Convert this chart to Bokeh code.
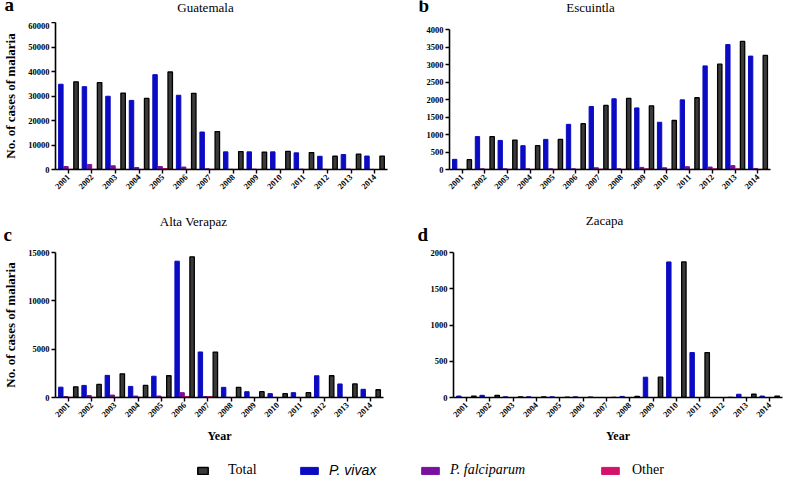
from bokeh.plotting import figure
from bokeh.models import Range1d, FixedTicker, Label, Legend, LegendItem, ColumnDataSource
from bokeh.layouts import column, row
from bokeh.transform import dodge
from bokeh.embed import file_html
from bokeh.resources import INLINE
import math

years = list(range(2001, 2015))
year_labels = [str(y) for y in years]

# Guatemala
g_total = [35800, 35500, 31200, 29000, 39800, 31100, 15500, 7300, 7100, 7400, 6900, 5400, 6300, 5500]
g_vivax = [34800, 33800, 29900, 28200, 38700, 30300, 15300, 7200, 7200, 7200, 6800, 5400, 6100, 5500]
g_falc = [1200, 2000, 1500, 800, 1200, 1000, 300, 100, 150, 100, 150, 100, 200, 50]
g_other = [100, 100, 100, 50, 400, 100, 100, 50, 50, 50, 50, 50, 50, 0]

# Escuintla
e_total = [280, 940, 840, 680, 860, 1310, 1830, 2030, 1820, 1400, 2050, 3010, 3660, 3260]
e_vivax = [290, 940, 830, 680, 860, 1290, 1800, 2020, 1760, 1350, 1990, 2960, 3570, 3240]
e_falc = [5, 20, 20, 20, 20, 20, 50, 20, 60, 50, 80, 70, 110, 30]
e_other = [0, 5, 5, 5, 5, 5, 10, 5, 20, 5, 5, 20, 20, 5]

# Alta Verapaz
a_total = [1100, 1350, 2450, 1250, 2250, 14550, 4700, 1050, 600, 400, 500, 2250, 1400, 800]
a_vivax = [1070, 1250, 2290, 1150, 2200, 14100, 4710, 1050, 600, 400, 500, 2250, 1400, 850]
a_falc = [100, 200, 250, 150, 150, 500, 100, 20, 10, 10, 10, 10, 10, 10]
a_other = [20, 20, 20, 20, 20, 100, 100, 10, 0, 0, 0, 0, 0, 0]

# Zacapa
z_total = [20, 30, 10, 10, 5, 5, 0, 15, 280, 1870, 620, 0, 45, 20]
z_vivax = [20, 30, 10, 10, 10, 10, 0, 15, 280, 1870, 620, 0, 45, 20]
z_falc = [0, 0, 0, 0, 0, 0, 0, 0, 0, 0, 0, 0, 0, 0]
z_other = [0, 0, 0, 0, 0, 0, 0, 0, 0, 0, 0, 0, 0, 0]

panel_titles = ["Guatemala", "Escuintla", "Alta Verapaz", "Zacapa"]
panel_letters = ["a", "b", "c", "d"]
series_names = ["Total", "P. vivax", "P. falciparum", "Other"]

C_TOTAL_FILL = "#3a3a3a"
C_VIVAX = "#0b0bc4"
C_FALC = "#7a109e"
C_OTHER = "#d4126a"
SERIF = "Liberation Serif"
W = 784


def make_panel(total, vivax, falc, other, ymax, ystep,
               width, height, left, right, top, bottom, ylabel, xlabel):
    src = ColumnDataSource(dict(year=years, total=total, vivax=vivax, falc=falc, other=other))
    p = figure(width=width, height=height, output_backend="svg", toolbar_location=None,
               x_range=Range1d(2000.45, 2014.55), y_range=Range1d(0, ymax),
               min_border_left=left, min_border_right=right,
               min_border_top=top, min_border_bottom=bottom, frame_align=False)
    w = 0.19
    p.vbar(x=dodge("year", -0.322), top="vivax", width=w, source=src,
           fill_color=C_VIVAX, line_color=C_VIVAX)
    p.vbar(x=dodge("year", -0.107), top="falc", width=w, source=src,
           fill_color=C_FALC, line_color=C_FALC)
    p.vbar(x=dodge("year", 0.107), top="other", width=w, source=src,
           fill_color=C_OTHER, line_color=C_OTHER)
    p.vbar(x=dodge("year", 0.322), top="total", width=w, source=src,
           fill_color=C_TOTAL_FILL, line_color="black", line_width=1.3)

    p.grid.visible = False
    p.outline_line_color = None
    p.background_fill_color = "white"

    p.xaxis.ticker = FixedTicker(ticks=years)
    p.xaxis.major_label_overrides = {y: s for y, s in zip(years, year_labels)}
    p.xaxis.major_label_orientation = math.pi / 4
    p.yaxis.ticker = FixedTicker(ticks=list(range(0, ymax + 1, ystep)))
    for ax in (p.xaxis, p.yaxis):
        ax.axis_line_width = 1.6
        ax.axis_line_color = "black"
        ax.major_tick_line_width = 1.4
        ax.major_tick_line_color = "black"
        ax.major_tick_out = 4
        ax.major_tick_in = 0
        ax.minor_tick_line_color = None
        ax.major_label_text_font = SERIF
        ax.major_label_text_font_style = "bold"
        ax.major_label_text_font_size = "8.5px"
        ax.major_label_text_color = "black"
        ax.major_label_standoff = 2
        ax.axis_label_text_font = SERIF
        ax.axis_label_text_font_style = "bold"
        ax.axis_label_text_color = "black"
    p.yaxis.formatter.use_scientific = False
    if ylabel:
        p.yaxis.axis_label = ylabel
        p.yaxis.axis_label_text_font_size = "13px"
        p.yaxis.axis_label_standoff = 7
    if xlabel:
        p.xaxis.axis_label = xlabel
        p.xaxis.axis_label_text_font_size = "12px"
        p.xaxis.axis_label_standoff = 6
    return p


def header(height, items):
    # data units == pixels, y downward
    h = figure(width=W, height=height, output_backend="svg", toolbar_location=None,
               x_range=Range1d(0, W), y_range=Range1d(height, 0), min_border=0,
               x_axis_location=None, y_axis_location=None, frame_align=False)
    h.grid.visible = False
    h.outline_line_color = None
    for txt, x, y, size, bold, align in items:
        h.add_layout(Label(x=x, y=y, text=txt,
                           text_font=SERIF, text_font_style="bold" if bold else "normal",
                           text_font_size=size, text_color="black",
                           text_baseline="alphabetic", text_align=align))
    return h


h1 = header(22, [
    (panel_letters[0], 4, 4, "19px", True, "left"),
    (panel_titles[0], 205, 7, "13px", False, "center"),
    (panel_letters[1], 418, 5, "19px", True, "left"),
    (panel_titles[1], 590, 7, "13px", False, "center"),
])
h2 = header(43, [
    (panel_titles[2], 193, 16, "13px", False, "center"),
    (panel_titles[3], 604, 15, "13px", False, "center"),
    (panel_letters[2], 3, 29, "19px", True, "left"),
    (panel_letters[3], 417, 29, "19px", True, "left"),
])

pa = make_panel(g_total, g_vivax, g_falc, g_other, 60000, 10000,
                400, 183, 50, 13, 0, 36, "No. of cases of malaria", None)
pb = make_panel(e_total, e_vivax, e_falc, e_other, 4000, 500,
                384, 183, 49, 14, 7, 36, None, None)
pc = make_panel(a_total, a_vivax, a_falc, a_other, 15000, 5000,
                400, 197, 48, 17, 4, 46, "No. of cases of malaria", "Year")
pd_ = make_panel(z_total, z_vivax, z_falc, z_other, 2000, 500,
                 384, 197, 53, 2, 4, 46, None, "Year")

# legend strip (legend renderers are hidden; only their legend swatches show)
lf = figure(width=W, height=37, output_backend="svg", toolbar_location=None,
            x_range=Range1d(2000.45, 2014.55), y_range=Range1d(0, 40000), min_border=0,
            x_axis_location=None, y_axis_location=None, frame_align=False)
lf.grid.visible = False
lf.outline_line_color = None
lsrc = ColumnDataSource(dict(year=years, total=g_total, vivax=g_vivax, falc=g_falc, other=g_other))
r_total = lf.vbar(x="year", top="total", width=0.1, source=lsrc,
                  fill_color=C_TOTAL_FILL, line_color="black", line_width=1.5, visible=False)
r_vivax = lf.vbar(x="year", top="vivax", width=0.1, source=lsrc, fill_color=C_VIVAX,
                  line_color=C_VIVAX, visible=False)
r_falc = lf.vbar(x="year", top="falc", width=0.1, source=lsrc, fill_color=C_FALC,
                 line_color=C_FALC, visible=False)
r_other = lf.vbar(x="year", top="other", width=0.1, source=lsrc, fill_color=C_OTHER,
                  line_color=C_OTHER, visible=False)

leg_specs = [
    (series_names[0], r_total, 196, 13, 19, SERIF, "normal"),
    (series_names[1], r_vivax, 298, 22, 9, "Liberation Sans", "italic"),
    (series_names[2], r_falc, 419, 22, 9, SERIF, "italic"),
    (series_names[3], r_other, 599, 22, 11, SERIF, "normal"),
]
for name, rend, lx, gw, stand, font, style in leg_specs:
    lg = Legend(items=[LegendItem(label=name, renderers=[rend])], location=(lx, 4),
                orientation="horizontal", glyph_width=gw, glyph_height=9,
                label_standoff=stand, label_text_font=font, label_text_font_style=style,
                label_text_font_size="14px", label_text_color="black",
                padding=0, margin=0, border_line_color=None, background_fill_alpha=0,
                inactive_fill_alpha=0, label_height=16)
    lf.add_layout(lg)

layout = column(h1, row(pa, pb), h2, row(pc, pd_), lf)
open("out.html", "w").write(file_html(layout, INLINE))
